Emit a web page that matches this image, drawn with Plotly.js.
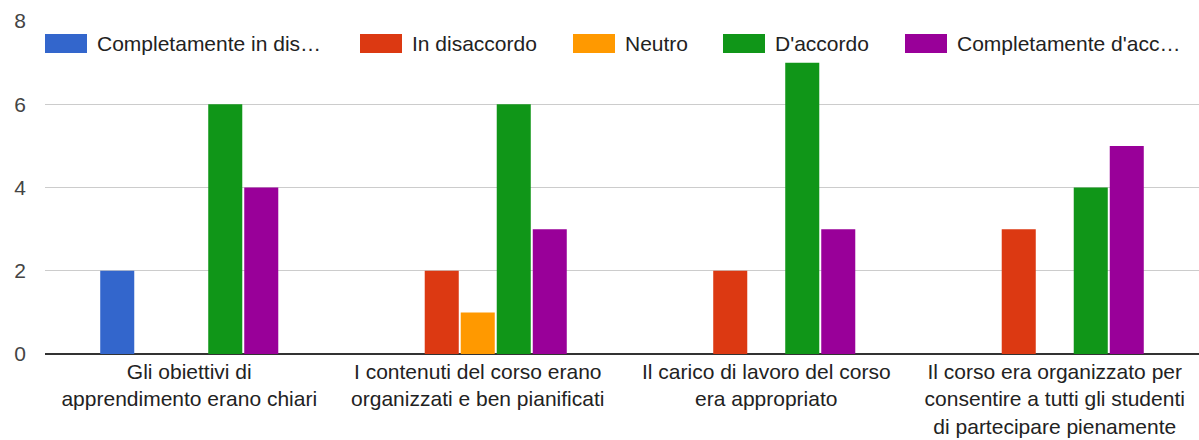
<!DOCTYPE html>
<html>
<head>
<meta charset="utf-8">
<script src="https://cdn.plot.ly/plotly-3.0.1.min.js"></script>
<style>html,body{margin:0;padding:0;background:#fff}#chart{width:1199px;height:440px}</style>
</head>
<body>
<div id="chart"></div>
<script>
const categories = [
  'Gli obiettivi di<br>apprendimento erano chiari',
  'I contenuti del corso erano<br>organizzati e ben pianificati',
  'Il carico di lavoro del corso<br>era appropriato',
  'Il corso era organizzato per<br>consentire a tutti gli studenti<br>di partecipare pienamente'
];
const seriesNames = ['Completamente in disaccordo', 'In disaccordo', 'Neutro', "D'accordo", "Completamente d'accordo"];
const legendLabels = ['Completamente in dis…', 'In disaccordo', 'Neutro', "D'accordo", "Completamente d'acc…"];
const completamenteInDisaccordo = [2, 0, 0, 0];
const inDisaccordo = [0, 2, 2, 3];
const neutro = [0, 1, 0, 0];
const dAccordo = [6, 6, 7, 4];
const completamenteDAccordo = [4, 3, 3, 5];
const yTicks = [0, 2, 4, 6, 8];

const seriesValues = [completamenteInDisaccordo, inDisaccordo, neutro, dAccordo, completamenteDAccordo];
const colors = ['#3366cc', '#dc3912', '#ff9900', '#109618', '#990099'];

const W = 1199, H = 440, ML = 45, MR = 0, MT = 21, MB = 86;
const PW = W - ML - MR, PH = H - MT - MB;
const FONT = 'Arial, "Liberation Sans", sans-serif';
const FS = 21;

const traces = seriesValues.map((vals, i) => ({
  type: 'bar', name: seriesNames[i], x: categories, y: vals,
  marker: {color: colors[i], line: {width: 0}}, showlegend: false,
  hoverinfo: 'x+y+name'
}));

// custom legend (layout only)
const swatchLeft = [45, 360, 573, 723, 905];
const swW = 42, swTop = 34, swBot = 53;
const px = v => (v - ML) / PW;
const py = v => (H - MB - v) / PH;
const shapes = [], annotations = [];
legendLabels.forEach((lab, i) => {
  shapes.push({type: 'rect', xref: 'paper', yref: 'paper', layer: 'above',
    x0: px(swatchLeft[i]), x1: px(swatchLeft[i] + swW), y0: py(swBot), y1: py(swTop),
    fillcolor: colors[i], line: {width: 0}});
  annotations.push({xref: 'paper', yref: 'paper', x: px(swatchLeft[i] + swW + 8), y: py((swTop + swBot) / 2),
    xanchor: 'left', yanchor: 'middle', showarrow: false, text: lab,
    font: {family: FONT, size: FS, color: '#222'}});
});

const layout = {
  width: W, height: H,
  margin: {l: ML, r: MR, t: MT, b: MB, pad: 0},
  paper_bgcolor: '#fff', plot_bgcolor: '#fff',
  barmode: 'group', bargap: 0.376, bargroupgap: 0.055,
  showlegend: false,
  font: {family: FONT, size: FS, color: '#222'},
  xaxis: {showgrid: false, zeroline: false, showline: false, ticks: '',
    ticklabelstandoff: 3,
    tickfont: {family: FONT, size: FS, color: '#222'}, fixedrange: true},
  yaxis: {range: [0, 8], tickvals: yTicks, ticktext: yTicks.map(String),
    showgrid: true, gridcolor: '#cccccc', gridwidth: 1,
    zeroline: true, zerolinecolor: '#333333', zerolinewidth: 2,
    showline: false, ticks: '', ticklabelstandoff: 18,
    tickfont: {family: FONT, size: FS, color: '#444'}, fixedrange: true},
  shapes: shapes, annotations: annotations
};

Plotly.newPlot('chart', traces, layout, {displayModeBar: false, staticPlot: true});
</script>
</body>
</html>
